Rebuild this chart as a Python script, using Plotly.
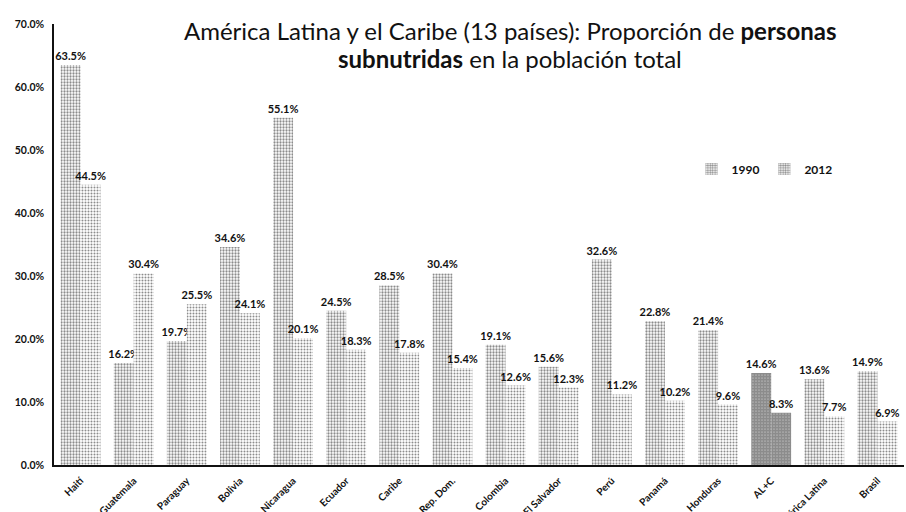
import plotly.graph_objects as go

# Proportion of undernourished people, % of total population
paises = ["Haití", "Guatemala", "Paraguay", "Bolivia", "Nicaragua", "Ecuador",
          "Caribe", "Rep. Dom.", "Colombia", "El Salvador", "Perú", "Panamá",
          "Honduras", "AL+C", "América Latina", "Brasil"]
v1990 = [63.5, 16.2, 19.7, 34.6, 55.1, 24.5, 28.5, 30.4, 19.1, 15.6, 32.6, 22.8,
         21.4, 14.6, 13.6, 14.9]
v2012 = [44.5, 30.4, 25.5, 24.1, 20.1, 18.3, 17.8, 15.4, 12.6, 12.3, 11.2, 10.2,
         9.6, 8.3, 7.7, 6.9]
y_ticks = [0, 10, 20, 30, 40, 50, 60, 70]

FONT = "Lato, Noto Sans, sans-serif"


def stipple(n, base, dense_idx):
    # the AL+C aggregate is drawn darker than the individual countries
    sol = [0.85 if i == dense_idx else base for i in range(n)]
    return dict(shape=".", size=3, solidity=sol, fgcolor="#1a1a1a", bgcolor="white")


idx_alc = paises.index("AL+C")

fig = go.Figure()
for name, vals, base in (("1990", v1990, 0.45), ("2012", v2012, 0.36)):
    fig.add_trace(go.Bar(
        name=name, x=paises, y=vals,
        marker=dict(color="white", line=dict(width=0),
                    pattern=stipple(len(paises), base, idx_alc)),
        text=[f"{v:.1f}%" for v in vals], textposition="outside", cliponaxis=False,
        constraintext="none",
        textfont=dict(family=FONT, size=11, color="#111", weight="bold"),
    ))

title_font = dict(family=FONT, size=24, color="#111")
fig.add_annotation(
    text="América Latina y el Caribe (13 países): Proporción de <b>personas</b>",
    xref="paper", yref="paper", x=0.536, y=0.985, xanchor="center", yanchor="middle",
    showarrow=False, font=title_font,
)
fig.add_annotation(
    text="<b>subnutridas</b> en la población total",
    xref="paper", yref="paper", x=0.536, y=0.922, xanchor="center", yanchor="middle",
    showarrow=False, font=title_font,
)

fig.update_layout(
    width=906, height=512,
    margin=dict(l=54, r=2, t=24, b=47),
    paper_bgcolor="white", plot_bgcolor="white",
    barmode="group", bargap=0.25, bargroupgap=0,
    legend=dict(
        orientation="h", x=0.75, y=0.671, xanchor="left", yanchor="middle",
        font=dict(family=FONT, size=12, color="#111", weight="bold"),
        bgcolor="rgba(0,0,0,0)", itemwidth=30, tracegroupgap=0,
    ),
    showlegend=True,
)
fig.update_yaxes(
    range=[0, 70], tickvals=y_ticks, ticktext=[f"{t:.1f}%" for t in y_ticks],
    showgrid=False, zeroline=False, showline=True, linecolor="#111", linewidth=1.5,
    ticks="", ticklabelstandoff=6,
    tickfont=dict(family=FONT, size=10.5, color="#111", weight="bold"),
)
fig.update_xaxes(
    tickangle=-45, showgrid=False, showline=True, linecolor="#111", linewidth=2,
    ticks="", automargin=False, ticklabelstandoff=4,
    tickfont=dict(family=FONT, size=10, color="#111", weight="bold"),
)

fig.write_html("out.html")
